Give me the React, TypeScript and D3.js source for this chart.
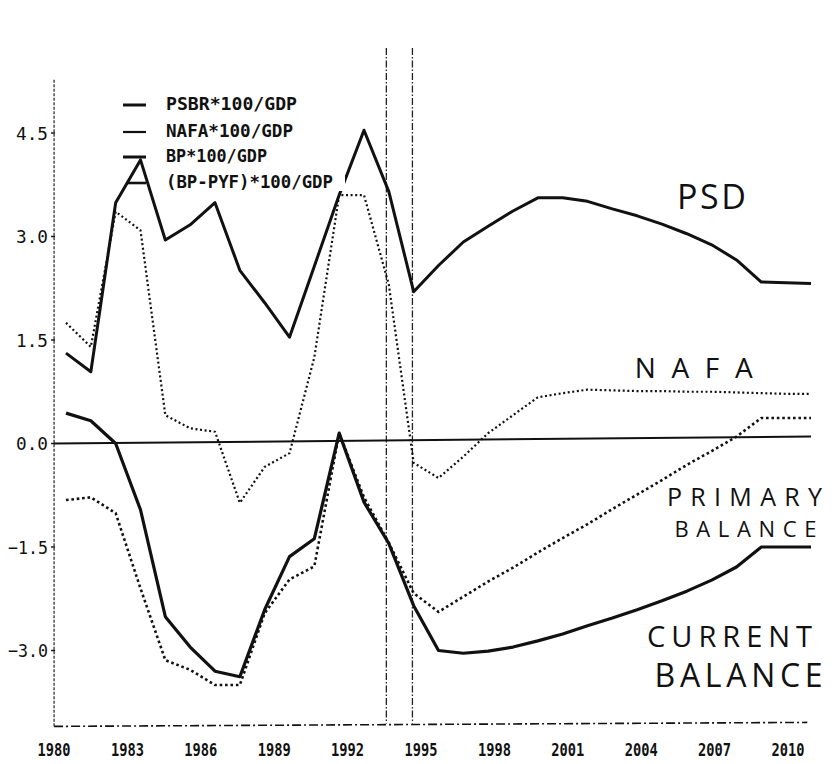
import React from 'react';
import * as d3 from 'd3';

const years = [1980, 1981, 1982, 1983, 1984, 1985, 1986, 1987, 1988, 1989, 1990, 1991, 1992, 1993, 1994, 1995, 1996, 1997, 1998, 1999, 2000, 2001, 2002, 2003, 2004, 2005, 2006, 2007, 2008, 2009, 2010];

const psbrValues = [1.31, 1.04, 3.49, 4.11, 2.95, 3.17, 3.49, 2.51, 2.04, 1.54, 2.57, 3.6, 4.54, 3.65, 2.2, 2.58, 2.92, 3.15, 3.37, 3.56, 3.56, 3.51, 3.4, 3.3, 3.18, 3.04, 2.88, 2.66, 2.34, 2.33, 2.32];
const nafaValues = [1.75, 1.4, 3.36, 3.09, 0.41, 0.22, 0.17, -0.86, -0.34, -0.14, 1.25, 3.6, 3.6, 2.3, -0.28, -0.5, -0.19, 0.15, 0.41, 0.67, 0.73, 0.78, 0.77, 0.76, 0.76, 0.75, 0.75, 0.74, 0.73, 0.72, 0.72];
const bpValues = [0.44, 0.33, 0.0, -0.96, -2.51, -2.95, -3.3, -3.38, -2.41, -1.64, -1.38, 0.15, -0.85, -1.45, -2.35, -3.0, -3.04, -3.01, -2.95, -2.86, -2.76, -2.64, -2.53, -2.41, -2.28, -2.14, -1.98, -1.79, -1.5, -1.5, -1.5];
const primaryValues = [-0.82, -0.78, -1.01, -2.1, -3.14, -3.28, -3.5, -3.5, -2.46, -1.97, -1.78, 0.15, -0.78, -1.44, -2.17, -2.44, -2.22, -2.0, -1.8, -1.58, -1.37, -1.17, -0.95, -0.74, -0.53, -0.31, -0.11, 0.1, 0.37, 0.37, 0.37];

const yTicks = [4.5, 3.0, 1.5, 0.0, -1.5, -3.0];
const xTicks = [1980, 1983, 1986, 1989, 1992, 1995, 1998, 2001, 2004, 2007, 2010];
const verticalMarks = [1992.9, 1993.95];

const legendLabels = ['PSBR*100/GDP', 'NAFA*100/GDP', 'BP*100/GDP', '(BP-PYF)*100/GDP'];
const legendWidths = [131, 127, 101, 167];

const annotations = [
  { text: 'PSD', year: 2004.6, value: 3.4, width: 69, size: 34 },
  { text: 'NAFA', year: 2002.9, value: 0.95, width: 118, size: 28 },
  { text: 'PRIMARY', year: 2004.2, value: -0.91, width: 155, size: 25 },
  { text: 'BALANCE', year: 2004.5, value: -1.36, width: 142, size: 22 },
  { text: 'CURRENT', year: 2003.4, value: -2.95, width: 165, size: 29 },
  { text: 'BALANCE', year: 2003.7, value: -3.53, width: 168, size: 32 },
];

export default function App() {
  const x = d3.scaleLinear().domain([1980, 2010]).range([66, 811]);
  const y = d3.scaleLinear().domain([-3, 4.5]).range([650.5, 133]);
  const xLabel = d3.scaleLinear().domain([1980, 2010]).range([54, 788]);
  const fmt = d3.format('.1f');

  const mk = (vals: number[]) =>
    d3.line<number>().x((_, i) => x(years[i])).y((d) => y(d))(vals) || '';

  const axisLeft = x(1979.52);
  const axisTop = y(5.27);
  const axisBottom = y(-4.1);
  const axisRight = x(2009.85);

  const series = [
    { vals: nafaValues, w: 2.2, dash: '2 2.6' },
    { vals: primaryValues, w: 2.6, dash: '2.6 2.8' },
    { vals: psbrValues, w: 3, dash: undefined },
    { vals: bpValues, w: 3.2, dash: undefined },
  ];

  const legendStyles = [
    { w: 3 },
    { w: 2.2 },
    { w: 3 },
    { w: 2.6 },
  ];
  const legendRows = [105, 132, 157, 183];

  return (
    <svg
      width={838}
      height={764}
      style={{ position: 'absolute', left: 0, top: 0, background: '#fff' }}
    >
      <rect x={0} y={0} width={838} height={764} fill="#fff" />
      <line x1={axisLeft} x2={axisLeft} y1={axisTop} y2={axisBottom} stroke="#222" strokeWidth={1.2} strokeDasharray="3 1.5" />
      <line x1={axisLeft} x2={axisRight} y1={axisBottom} y2={axisBottom - 4} stroke="#111" strokeWidth={1.6} strokeDasharray="9 3 2 3" />
      {yTicks.map((t) => (
        <g key={t}>
          <line x1={axisLeft - 3} x2={axisLeft + 1} y1={y(t)} y2={y(t)} stroke="#111" strokeWidth={1.5} />
          <text x={48} y={y(t) + 6.5} textAnchor="end" fontFamily="'DejaVu Sans Mono', monospace" fontSize={18} fill="#111" textLength={t < 0 ? 40 : 32} lengthAdjust="spacingAndGlyphs">
            {fmt(t)}
          </text>
        </g>
      ))}
      {xTicks.map((t) => (
        <text key={t} x={xLabel(t)} y={756} textAnchor="middle" fontFamily="'DejaVu Sans Mono', monospace" fontSize={17} fontWeight="bold" fill="#111" textLength={33} lengthAdjust="spacingAndGlyphs">
          {t}
        </text>
      ))}
      {verticalMarks.map((v) => (
        <line key={v} x1={x(v)} x2={x(v)} y1={48} y2={axisBottom - 3} stroke="#222" strokeWidth={1.3} strokeDasharray="7 2 1.5 2" />
      ))}
      <line x1={axisLeft} x2={x(2010)} y1={y(0)} y2={y(0.1)} stroke="#111" strokeWidth={2} />
      {series.map((s, i) => (
        <path key={i} d={mk(s.vals)} fill="none" stroke="#111" strokeWidth={s.w} strokeDasharray={s.dash} strokeLinejoin="round" />
      ))}
      {legendLabels.map((lab, i) => (
        <g key={lab}>
          <rect x={162} y={legendRows[i] - 14} width={legendWidths[i] + 16} height={22} fill="#fff" />
          <line x1={i === 3 ? 127 : 123} x2={146} y1={legendRows[i]} y2={legendRows[i]} stroke="#111" strokeWidth={legendStyles[i].w} />
          <text x={166} y={legendRows[i] + 5} fontFamily="'DejaVu Sans Mono', monospace" fontSize={17} fontWeight="bold" fill="#111" textLength={legendWidths[i]} lengthAdjust="spacingAndGlyphs">
            {lab}
          </text>
        </g>
      ))}
      {annotations.map((a, i) => (
        <text key={i} x={x(a.year)} y={y(a.value)} fontFamily="'Open Sans', 'DejaVu Sans', sans-serif" fontWeight={400} fontSize={a.size} fill="#111" textLength={a.width} lengthAdjust="spacing">
          {a.text}
        </text>
      ))}
    </svg>
  );
}
